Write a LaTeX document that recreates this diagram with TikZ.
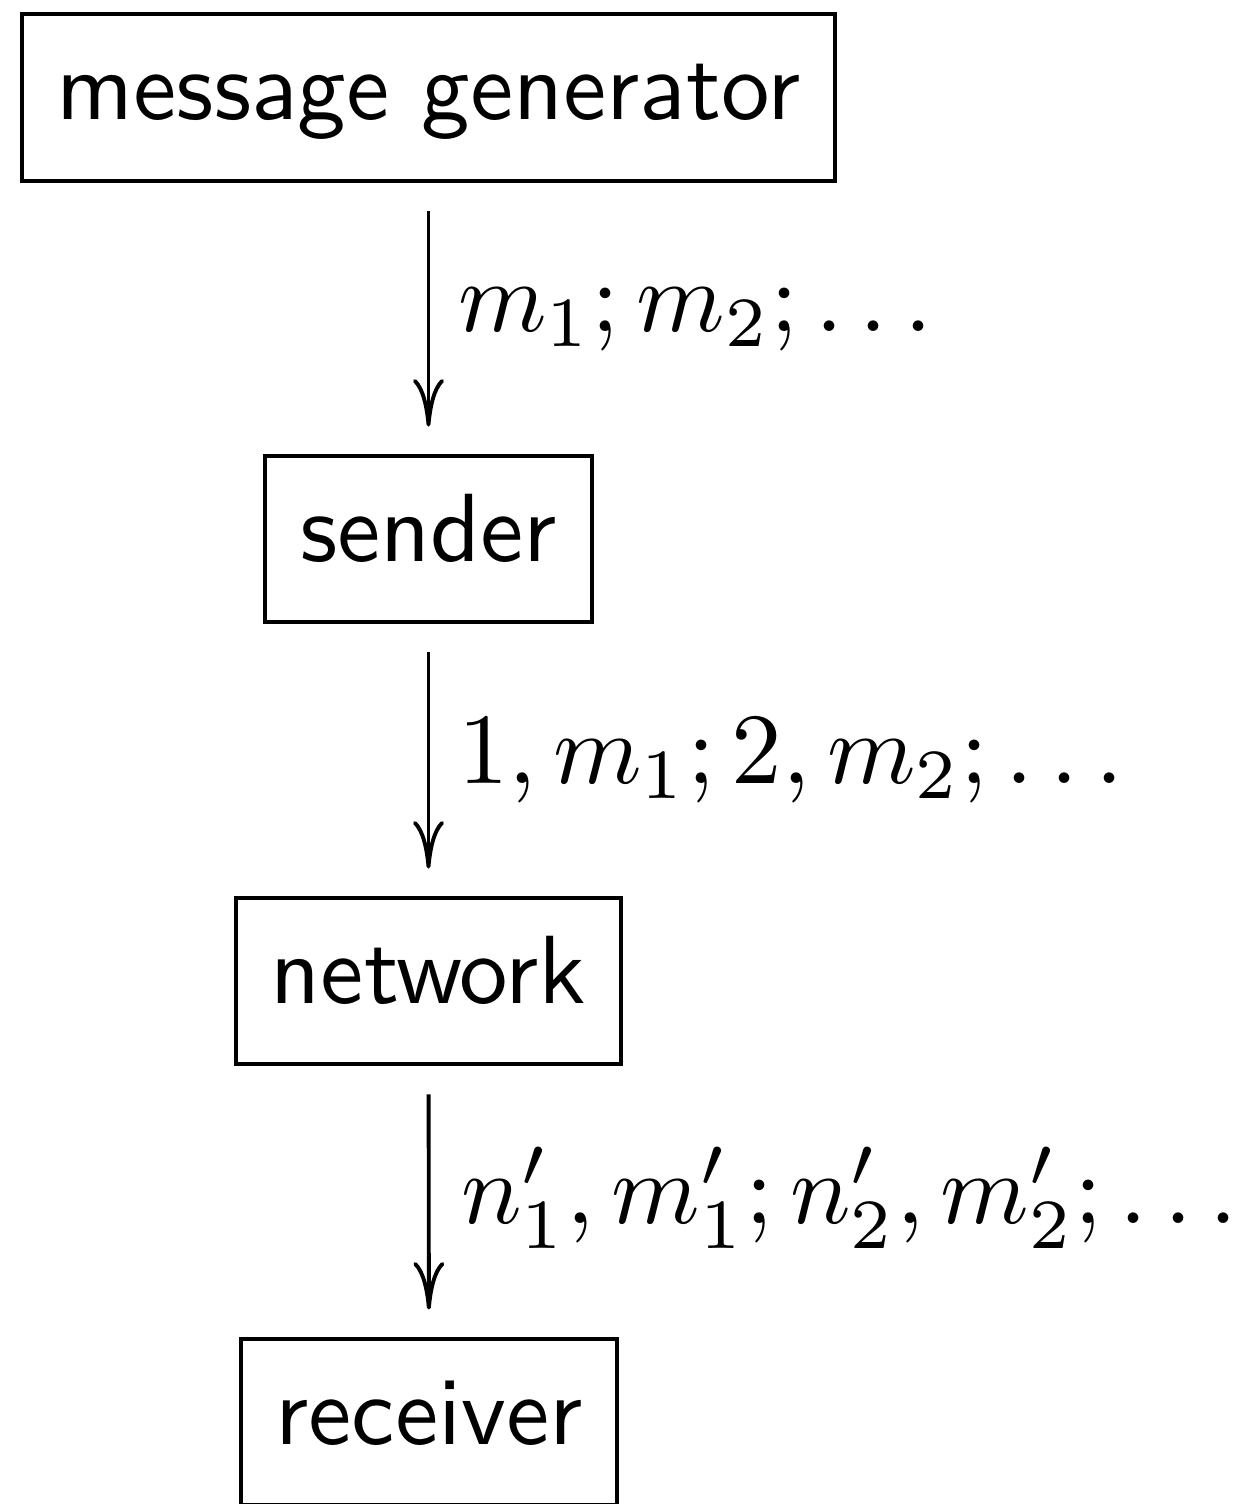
\documentclass[tikz,border=0pt]{standalone}
\usetikzlibrary{arrows.meta}
\begin{document}
\begin{tikzpicture}[
  x=0.1031pt, y=-0.1031pt,
  every node/.style={font=\sffamily},
  box/.style={draw, line width=0.4pt, inner xsep=3.6pt, inner ysep=4.1pt,
              text height=6.8pt, text depth=2.2pt},
  flow/.style={line width=0.4pt,
               -{Computer Modern Rightarrow[length=4.9pt, width=3.2pt]},
               shorten <=2.9pt, shorten >=2.8pt},
  msg/.style={anchor=base west, inner sep=0pt, scale=1.04, transform shape}
]
  \useasboundingbox (0,0) rectangle (1235,1504);

  % the four stages of the pipeline
  \node[box] (gen) at (428.5,97.5)  {message generator};
  \node[box] (snd) at (428.5,539)   {sender};
  \node[box] (net) at (428.5,981)   {network};
  \node[box] (rcv) at (429,1422)    {receiver};

  % data passed between stages
  \draw[flow] (gen) -- (snd);
  \draw[flow] (snd) -- (net);
  \draw[flow] (net) -- (rcv);

  \node[msg] (m1) at (456,331)  {$m_1; m_2; \ldots$};
  \node[msg] (m2) at (456,783)  {$1, m_1; 2, m_2; \ldots$};
  \node[msg] (m3) at (459,1223) {$n'_1, m'_1; n'_2, m'_2; \ldots$};
\end{tikzpicture}
\end{document}
